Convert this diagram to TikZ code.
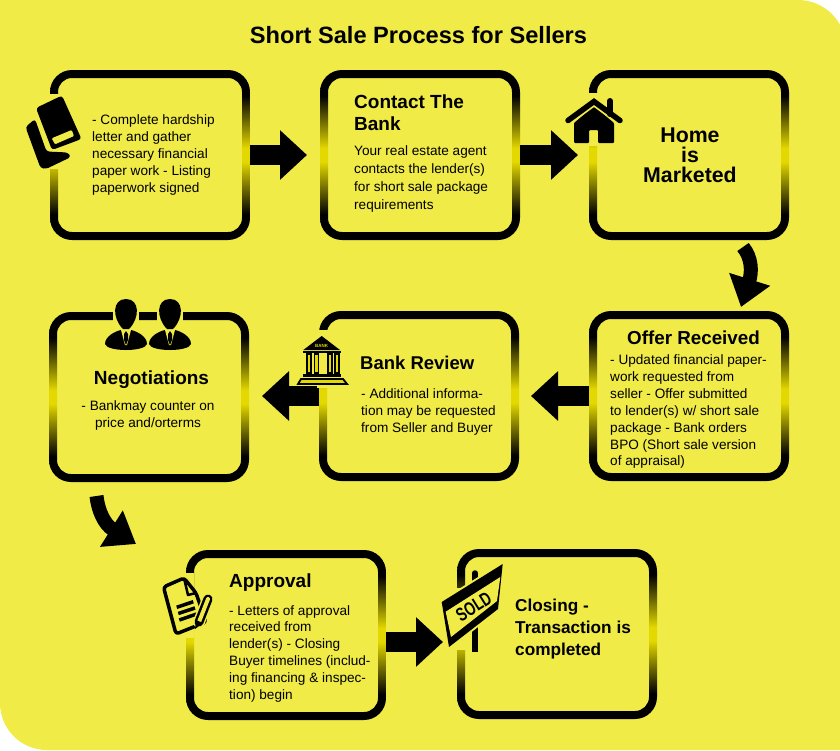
\documentclass[tikz,border=0pt]{standalone}
\usepackage{fontspec}
\setmainfont{Liberation Sans}
\usetikzlibrary{arrows.meta}
\definecolor{pageyel}{HTML}{F0EB47}
\definecolor{ringyel}{HTML}{E3D800}
\pgfdeclareverticalshading{ringshade}{100bp}{color(0bp)=(black); color(32.5bp)=(black); color(48bp)=(ringyel); color(52bp)=(ringyel); color(67.5bp)=(black); color(100bp)=(black)}
\def\stepring(#1){\shade[shading=ringshade,even odd rule] [rounded corners=22pt] (#1.north west) rectangle (#1.south east) [rounded corners=14pt] ([shift={(8,8)}]#1.north west) rectangle ([shift={(-8,-8)}]#1.south east);}
\tikzset{
	stepbox/.style={minimum width=200pt,minimum height=170pt,inner sep=0pt,outer sep=0pt},
	bodytext/.style={anchor=north west,inner sep=0pt,align=left,font=\fontsize{13.6}{16.9}\selectfont},
	headtext/.style={anchor=west,inner sep=0pt,align=left,font=\fontsize{19}{22}\selectfont\bfseries},
	blockarrow/.style={line width=20pt,-{Triangle[length=27pt,width=48pt]}},
	bentarrow/.style={line width=14pt,-{Triangle[length=29pt,width=41pt]}},
	halo/.style={draw=pageyel,line width=3pt,line join=round}
}

\begin{document}
\begin{tikzpicture}[x=1pt,y=-1pt]
	%%%%% PAGE %%%%%
	\useasboundingbox (0,0) rectangle (840,750);
	\clip (0,0) rectangle (840,750);
	\fill[pageyel] (0,0) -- (400,0) {[rounded corners=48pt] -- (846,0) -- (846,300)} -- (846,750) -- (400,750) {[rounded corners=47pt] -- (0,750) -- (0,400)} -- cycle;

	\node[inner sep=0pt,font=\fontsize{23.6}{28}\selectfont\bfseries] (title) at (418.5,35) {Short Sale Process for Sellers};

	%%%%% BOXES %%%%%
	\node[stepbox] (paper) at (150,155) {};
	\node[stepbox] (contact) at (420,155) {};
	\node[stepbox] (marketed) at (689,155) {};
	\node[stepbox] (offer) at (689,396) {};
	\node[stepbox] (review) at (419,396) {};
	\node[stepbox] (nego) at (149,397) {};
	\node[stepbox] (approval) at (286,635) {};
	\node[stepbox] (closing) at (557,634) {};

	\stepring(paper)
	\stepring(contact)
	\stepring(marketed)
	\stepring(offer)
	\stepring(review)
	\stepring(nego)
	\stepring(approval)
	\stepring(closing)

	%%%%% ARROWS %%%%%
	\draw[blockarrow,shorten >=13pt] (paper.east) -- (contact.west);
	\draw[blockarrow,shorten >=11pt] (contact.east) -- (marketed.west);
	\draw[blockarrow,shorten >=12pt] (offer.west) -- (review.east);
	\draw[blockarrow,shorten >=13pt] (review.west) -- (nego.east |- review.west);
	\draw[blockarrow,shorten >=14pt] ([yshift=-7pt]approval.east) -- ([yshift=-7pt]approval.east -| closing.west);
	\coordinate (bentA) at (743,247);
	\coordinate (bentB) at (741,307);
	\coordinate (bentC) at (96.5,496);
	\coordinate (bentD) at (136,544);
	\draw[bentarrow] (bentA) .. controls (752,258) and (752,272) .. (bentB);
	\draw[bentarrow] (bentC) .. controls (98,510) and (104,524) .. (bentD);

	%%%%% BOOK %%%%%
	\fill[pageyel] (44,94) rectangle (62,169);
	\fill[rounded corners=3pt] (36,108) -- (62,95.5) -- (81.5,139) -- (52,150) -- cycle;
	\fill[rounded corners=3pt] (25.5,127) -- (35,119) -- (46.5,151.5) -- (68,152.5) -- (71,157) -- (46,169) -- (40.5,168) -- cycle;
	\fill[pageyel,rounded corners=1pt] (51.7,138.3) -- (71.7,130) -- (74,136) -- (55,144.3) -- cycle;

	%%%%% HOUSE %%%%%
	\fill[pageyel] (587,93) rectangle (599,146);
	\fill[rounded corners=1pt] (594,106) -- (574,123) -- (574,143) -- (589,143) -- (589,130) -- (598,130) -- (598,143) -- (614,143) -- (614,123) -- cycle;
	\draw[halo,line width=9pt,line cap=round,line join=miter] (568,120.5) -- (594,101.5) -- (620,120.5);
	\draw[line width=6pt,line cap=round] (610,101) -- (610,114);
	\draw[line width=5.5pt,line cap=round,line join=miter] (568,120.5) -- (594,101.5) -- (620,120.5);

	%%%%% BANK %%%%%
	\fill[pageyel] (317,330) rectangle (329,388);
	\draw[halo,fill=pageyel] (303,350) -- (321.7,336.5) -- (340,350) -- (340,374) -- (348,384) -- (298,384) -- (303,374) -- cycle;
	\fill (303.3,350) -- (321.7,336) -- (340,350) -- cycle;
	\fill (302.5,350.5) rectangle (341,353);
	\node[inner sep=0pt,text=ringyel,font=\fontsize{4.5}{5}\selectfont\bfseries] (banksign) at (321.7,345.5) {BANK};
	\draw[line width=1.6pt,fill=ringyel] (306.7,354) rectangle (311,373);
	\draw[line width=1.6pt,fill=ringyel] (314.3,354) rectangle (318.3,373);
	\draw[line width=1.6pt,fill=ringyel] (327.7,354) rectangle (331.7,373);
	\draw[line width=1.6pt,fill=ringyel] (335,354) rectangle (339,373);
	\fill (302.5,373.5) rectangle (341,377);
	\draw[line width=1.8pt,fill=ringyel] (301,379) -- (343,379) -- (347,384) -- (298,384) -- cycle;

	%%%%% PEOPLE %%%%%
	\fill[pageyel] (113,310) rectangle (139,330);
	\fill[pageyel] (157,310) rectangle (183,330);
	\foreach \px in {126,170}{
		\fill (\px,299) .. controls ({\px+14},299) and ({\px+14},318) .. ({\px+3},329) -- ({\px-3},329) .. controls ({\px-14},318) and ({\px-14},299) .. (\px,299) -- cycle;
		\fill ({\px-21},344) .. controls ({\px-21},336) and ({\px-10},331) .. ({\px-5},330) -- ({\px+5},330) .. controls ({\px+10},331) and ({\px+21},336) .. ({\px+21},344) .. controls ({\px+19},352) and ({\px-19},352) .. ({\px-21},344) -- cycle;
		\fill[pageyel] ({\px-5},330) -- ({\px+5},330) -- ({\px+1},345) -- ({\px-1},345) -- cycle;
		\fill (\px,331) -- ({\px+2},334) -- ({\px+2},340) -- (\px,345) -- ({\px-2},340) -- ({\px-2},334) -- cycle;
	}

	%%%%% DOCUMENT %%%%%
	\fill[pageyel] (184,573) rectangle (194,638);
	\draw[line width=3.5pt,line join=round,rounded corners=3pt,fill=pageyel] (163.5,587) -- (184,578) -- (196,593) -- (206,622) -- (176,634) -- cycle;
	\draw[line width=2.5pt,line join=round] (184,578) -- (188,595) -- (196,593);
	\draw[line width=3.5pt] (176.7,607.3) -- (193.3,601.7);
	\draw[line width=3.5pt] (178.3,613.5) -- (195,608);
	\draw[line width=3.5pt] (179.3,620) -- (196.7,614);
	\draw[pageyel,line width=12pt,line cap=round] (199,622) -- (208,599);
	\draw[line width=9pt,line cap=round] (199,622) -- (208,599);
	\draw[pageyel,line width=4pt,line cap=round] (199,622) -- (208,599);
	\fill (195,629) -- (196,620) -- (203,623) -- cycle;

	%%%%% SIGN %%%%%
	\fill[pageyel] (455,588) rectangle (466,650);
	\draw[line width=5.5pt,line cap=round] (475,573) -- (475,610);
	\draw[line width=5.5pt] (475,610) -- (475,652);
	\draw[halo,line width=4pt] (441.7,602) -- (502.7,564) -- (498,609) -- (449,647) -- cycle;
	\fill (441.7,602) -- (502.7,564) -- (498,609) -- (449,647) -- cycle;
	\fill[pageyel] (445.7,611.7) -- (500.3,577) -- (497,601) -- (451,637) -- cycle;
	\node[inner sep=0pt,rotate=32,font=\fontsize{19}{20}\selectfont\bfseries] (soldsign) at (473.7,606.7) {\scalebox{0.72}[1]{SOLD}};

	%%%%% TEXT %%%%%
	\node[bodytext] (papertext) at (92,114.5) {- Complete hardship\\letter and gather\\necessary financial\\paper work - Listing\\paperwork signed};
	\node[headtext] (contacthead) at (354,113) {Contact The\\Bank};
	\node[bodytext,font=\fontsize{13.6}{18}\selectfont] (contacttext) at (354,145) {Your real estate agent\\contacts the lender(s)\\for short sale package\\requirements};
	\node[inner sep=0pt,align=center,font=\fontsize{21.3}{20}\selectfont\bfseries] (markethead) at (690,155) {Home\\is\\Marketed};
	\node[inner sep=0pt,font=\fontsize{18.8}{22}\selectfont\bfseries] (offerhead) at (693.5,338) {Offer Received};
	\node[bodytext] (offertext) at (610,354.5) {- Updated financial paper-\\work requested from\\seller - Offer submitted\\to lender(s) w/ short sale\\package - Bank orders\\BPO (Short sale version\\of appraisal)};
	\node[headtext,font=\fontsize{18.5}{22}\selectfont\bfseries] (reviewhead) at (360,363) {Bank Review};
	\node[bodytext] (reviewtext) at (361,388.5) {- Additional informa-\\tion may be requested\\from Seller and Buyer};
	\node[inner sep=0pt,font=\fontsize{19}{22}\selectfont\bfseries] (negohead) at (151.5,380) {Negotiations};
	\node[inner sep=0pt,align=center,font=\fontsize{13.6}{16.9}\selectfont] (negotext) at (148,415.5) {- Bankmay counter on\\price and/orterms};
	\node[headtext] (approvalhead) at (229,583) {Approval};
	\node[bodytext] (approvaltext) at (229,605) {- Letters of approval\\received from\\lender(s) - Closing\\Buyer timelines (includ-\\ing financing \& inspec-\\tion) begin};
	\node[headtext,font=\fontsize{17.2}{22}\selectfont\bfseries] (closinghead) at (515,629) {Closing -\\Transaction is\\completed};
\end{tikzpicture}
\end{document}
